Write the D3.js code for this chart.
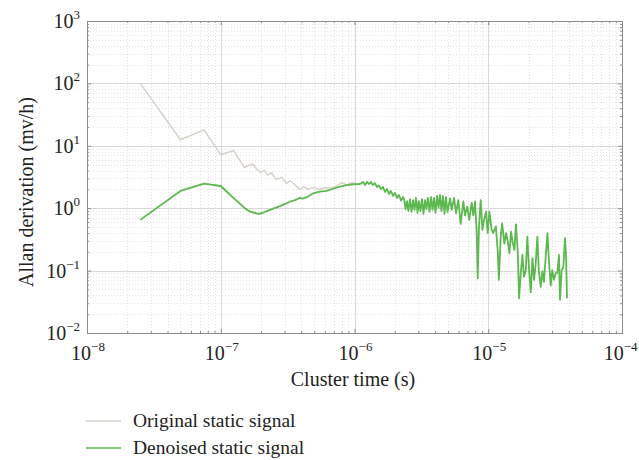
<!DOCTYPE html>
<html>
<head>
<meta charset="utf-8">
<style>
  body { margin: 0; background: #fff; }
  svg { display: block; }
  text { font-family: "Liberation Serif", "Times New Roman", serif; fill: #222; }
</style>
</head>
<body>
<div id="chart"></div>
<script src="https://d3js.org/d3.v7.min.js"></script>
<script>
  // cluster time in microseconds, Allan deviation in mv/h
  const originalSignal = [
    [0.025, 100], [0.05, 12.5], [0.075, 18], [0.1, 7.2], [0.125, 8.4], [0.15, 4.5],
    [0.173, 5.1], [0.186, 4.2], [0.199, 3.7], [0.211, 4.1], [0.223, 3.4], [0.240, 3.7],
    [0.259, 2.9], [0.286, 3.1], [0.311, 2.5], [0.330, 2.76], [0.359, 2.35], [0.392, 2.0],
    [0.419, 2.2], [0.452, 2.0], [0.498, 2.16], [0.546, 2.0], [0.601, 2.13], [0.656, 2.1],
    [0.736, 2.27], [0.802, 2.56], [0.874, 2.35], [0.953, 2.56], [1.04, 2.43], [1.14, 2.5]
  ];

  const denoisedSignal = [
    [0.025, 0.65], [0.05, 1.89], [0.075, 2.47], [0.1, 2.27], [0.125, 1.45], [0.15, 1.02],
    [0.166, 0.88], [0.191, 0.81], [0.202, 0.83], [0.233, 0.94], [0.277, 1.08], [0.330, 1.27],
    [0.359, 1.35], [0.391, 1.47], [0.41, 1.42], [0.439, 1.50], [0.492, 1.73], [0.552, 1.84],
    [0.619, 1.89], [0.694, 2.05], [0.779, 2.21], [0.874, 2.35], [0.98, 2.42], [1.10, 2.44],
    [1.16, 2.63], [1.20, 2.35], [1.24, 2.66], [1.28, 2.44], [1.33, 2.63], [1.37, 2.35],
    [1.42, 2.53], [1.47, 2.19], [1.52, 2.31], [1.58, 2.03], [1.63, 2.19], [1.69, 1.82],
    [1.75, 2.03], [1.81, 1.69], [1.87, 1.89], [1.94, 1.57], [2.01, 1.75], [2.08, 1.46],
    [2.15, 1.63], [2.23, 1.32], [2.31, 1.51],
    [2.35, 1.40], [2.41, 0.97], [2.47, 1.30], [2.53, 0.90], [2.60, 1.40], [2.67, 0.87],
    [2.74, 1.35], [2.81, 0.94], [2.88, 1.46], [2.96, 0.84], [3.03, 1.30], [3.11, 0.90],
    [3.20, 1.40], [3.28, 0.81], [3.37, 1.35], [3.45, 0.97], [3.54, 1.46], [3.64, 0.87],
    [3.73, 1.51], [3.83, 0.94], [3.93, 1.46], [4.03, 0.84], [4.14, 1.57], [4.25, 1.01],
    [4.36, 1.63], [4.47, 0.90], [4.59, 1.57], [4.71, 0.81], [4.83, 1.51], [4.96, 0.87],
    [5.18, 1.44], [5.33, 0.94], [5.55, 1.46], [5.74, 0.83], [5.97, 1.35], [6.22, 0.56],
    [6.51, 1.28], [6.70, 0.77], [6.97, 1.06], [7.21, 0.65], [7.52, 1.23], [7.73, 0.77],
    [7.96, 1.28], [8.20, 0.42], [8.34, 0.075], [8.53, 0.51], [8.78, 1.35], [9.04, 0.45],
    [9.30, 0.65], [9.63, 0.88], [9.91, 0.40], [10.2, 0.88], [10.6, 0.45], [10.9, 0.40],
    [11.4, 0.51], [11.8, 0.19], [12.0, 0.071], [12.4, 0.35], [12.7, 0.57], [13.2, 0.27],
    [13.6, 0.40], [14.0, 0.29], [14.4, 0.19], [14.8, 0.42], [15.2, 0.29], [15.7, 0.214],
    [16.1, 0.55], [16.6, 0.214], [17.0, 0.036], [17.5, 0.091], [18.0, 0.178], [18.5, 0.080],
    [19.1, 0.102], [19.6, 0.35], [20.2, 0.102], [20.8, 0.045], [21.4, 0.159], [22.0, 0.071],
    [22.6, 0.124], [23.3, 0.35], [23.9, 0.098], [24.7, 0.055], [25.4, 0.098], [26.1, 0.066],
    [26.9, 0.168], [27.7, 0.40], [28.5, 0.130], [29.3, 0.058], [30.1, 0.102], [31.0, 0.071],
    [31.9, 0.091], [32.8, 0.091], [33.8, 0.178], [34.4, 0.034], [35.4, 0.102], [36.4, 0.115],
    [37.5, 0.33], [38.1, 0.19], [38.8, 0.036]
  ];

  const xExponents = [-8, -7, -6, -5, -4];
  const yExponents = [-2, -1, 0, 1, 2, 3];
  const legendLabels = ['Original static signal', 'Denoised static signal'];
  const seriesColors = ['#d6d2ca', '#5cb84f'];

  const US = 1e-6;
  const width = 639;
  const height = 460;
  const plot = { left: 87, right: 622, top: 21, bottom: 333 };

  const svg = d3.select('#chart')
    .append('svg')
    .attr('width', width)
    .attr('height', height);

  const x = d3.scaleLog()
    .domain([1e-8, 1e-4])
    .range([plot.left, plot.right]);

  const y = d3.scaleLog()
    .domain([1e-2, 1e3])
    .range([plot.bottom, plot.top]);

  const isMajor = (v) => Math.abs(Math.log10(v) - Math.round(Math.log10(v))) < 1e-6;

  // grid
  const grid = svg.append('g');
  grid.selectAll('.gx')
    .data(x.ticks())
    .enter()
    .append('line')
    .attr('x1', (d) => Math.round(x(d)) + 0.5)
    .attr('x2', (d) => Math.round(x(d)) + 0.5)
    .attr('y1', plot.top)
    .attr('y2', plot.bottom)
    .attr('stroke', (d) => isMajor(d) ? '#d8d8d8' : '#e4e4e4')
    .attr('stroke-dasharray', (d) => isMajor(d) ? null : '1,2');

  grid.selectAll('.gy')
    .data(y.ticks())
    .enter()
    .append('line')
    .attr('y1', (d) => Math.round(y(d)) + 0.5)
    .attr('y2', (d) => Math.round(y(d)) + 0.5)
    .attr('x1', plot.left)
    .attr('x2', plot.right)
    .attr('stroke', (d) => isMajor(d) ? '#d8d8d8' : '#e4e4e4')
    .attr('stroke-dasharray', (d) => isMajor(d) ? null : '1,2');

  // inward tick marks on all four sides
  const tickLen = (d) => isMajor(d) ? 4 : 2;
  const axisStyle = (g) => {
    g.select('.domain').remove();
    g.selectAll('.tick line').attr('stroke', '#8c8c8c');
    g.selectAll('.tick text').remove();
  };
  x.ticks().forEach((d) => {
    svg.append('g').attr('transform', `translate(0,${plot.bottom})`)
      .call(d3.axisBottom(x).tickValues([d]).tickSize(-tickLen(d))).call(axisStyle);
    svg.append('g').attr('transform', `translate(0,${plot.top})`)
      .call(d3.axisTop(x).tickValues([d]).tickSize(-tickLen(d))).call(axisStyle);
  });
  y.ticks().forEach((d) => {
    svg.append('g').attr('transform', `translate(${plot.left},0)`)
      .call(d3.axisLeft(y).tickValues([d]).tickSize(-tickLen(d))).call(axisStyle);
    svg.append('g').attr('transform', `translate(${plot.right},0)`)
      .call(d3.axisRight(y).tickValues([d]).tickSize(-tickLen(d))).call(axisStyle);
  });

  // frame
  svg.append('rect')
    .attr('x', plot.left + 0.5)
    .attr('y', plot.top + 0.5)
    .attr('width', plot.right - plot.left)
    .attr('height', plot.bottom - plot.top)
    .attr('fill', 'none')
    .attr('stroke', '#8c8c8c');

  // lines
  const line = d3.line()
    .x((d) => x(d[0] * US))
    .y((d) => y(d[1]));

  [originalSignal, denoisedSignal].forEach((s, i) => {
    svg.append('path')
      .datum(s)
      .attr('fill', 'none')
      .attr('stroke', seriesColors[i])
      .attr('stroke-width', i === 0 ? 1.5 : 1.8)
      .attr('stroke-linejoin', 'round')
      .attr('d', line);
  });

  // tick labels 10^n
  const powLabel = (sel) => {
    sel.append('tspan').text('10');
    sel.append('tspan')
      .attr('dy', -9)
      .attr('font-size', 13)
      .text((d) => d < 0 ? '\u2212' + (-d) : d);
  };

  svg.selectAll('.xl')
    .data(xExponents)
    .enter()
    .append('text')
    .attr('x', (d) => x(Math.pow(10, d)) + 1)
    .attr('y', plot.bottom + 27)
    .attr('text-anchor', 'middle')
    .attr('font-size', 20)
    .call(powLabel)
    .each(function () {
      // keep the last label inside the picture
      const b = this.getBBox();
      if (b.x + b.width > width - 1) {
        d3.select(this).attr('x', +d3.select(this).attr('x') - (b.x + b.width - width + 1));
      }
    });

  svg.selectAll('.yl')
    .data(yExponents)
    .enter()
    .append('text')
    .attr('x', plot.left - 7)
    .attr('y', (d) => y(Math.pow(10, d)) + 7)
    .attr('text-anchor', 'end')
    .attr('font-size', 20)
    .call(powLabel);

  // axis titles
  svg.append('text')
    .attr('x', 353)
    .attr('y', plot.bottom + 53)
    .attr('text-anchor', 'middle')
    .attr('font-size', 20)
    .text('Cluster time (s)');

  svg.append('text')
    .attr('transform', 'rotate(-90)')
    .attr('x', -192)
    .attr('y', 33)
    .attr('text-anchor', 'middle')
    .attr('font-size', 20)
    .text('Allan derivation (mv/h)');

  // legend
  const legend = svg.selectAll('.lg')
    .data(legendLabels)
    .enter()
    .append('g')
    .attr('transform', (d, i) => `translate(86,${421 + i * 27})`);

  legend.append('line')
    .attr('x1', 0)
    .attr('x2', 35)
    .attr('stroke', (d, i) => seriesColors[i])
    .attr('stroke-width', 1.5);

  legend.append('text')
    .attr('x', 47)
    .attr('y', 6)
    .attr('font-size', 19.5)
    .text((d) => d);
</script>
</body>
</html>
